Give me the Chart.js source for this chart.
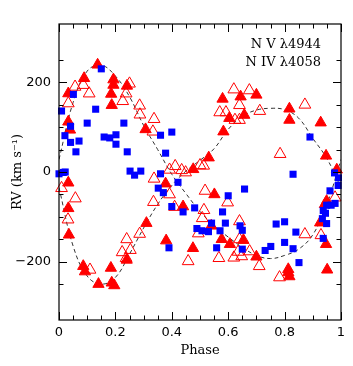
<!DOCTYPE html>
<html><head><meta charset="utf-8">
<script src="https://cdn.jsdelivr.net/npm/chart.js@4"></script>
<style>html,body{margin:0;padding:0;background:#fff}</style>
</head><body>
<canvas id="c" width="353" height="366"></canvas>
<script>
// ---- data ----
const seriesNames = ["N V \u03bb4944", "N IV \u03bb4058"];

const nvPhase = [0.000,0.015,0.022,0.009,0.051,0.130,0.150,0.100,0.041,0.021,
                 0.041,0.071,0.060,0.160,0.180,0.202,0.202,0.230,0.242,0.252,
                 0.268,0.290,0.360,0.400,0.378,0.360,0.352,0.370,0.422,0.400,
                 0.440,0.481,0.489,0.507,0.530,0.541,0.571,0.580,0.590,0.600,
                 0.658,0.642,0.650,0.390,0.559,0.650,0.731,0.751,0.770,0.800,
                 0.840,0.800,0.830,0.851,0.830,0.890,0.977,0.991,0.990,0.961,
                 0.949,0.965,0.979,0.937,0.945,0.934,0.949,0.937];
const nvRV    = [-4,-1,0,136,173,140,230,109,102,81,
                 66,69,45,78,76,83,62,109,45,2,
                 -7,2,82,89,42,-4,-36,-46,-23,-77,
                 -89,-80,-126,-131,-133,-114,-131,-89,-114,-53,
                 -38,-120,-130,-169,-169,-172,-175,-166,-116,-111,
                 -134,-157,-171,-202,-5,78,-2,-13,-30,-42,
                 -74,-74,-70,-86,-92,-104,-115,-148];

const nivFilledPhase = [0.033,0.089,0.137,0.193,0.193,0.185,0.187,0.241,0.033,0.039,
                        0.307,0.378,0.440,0.476,0.531,0.583,0.580,0.644,0.700,0.604,
                        0.657,0.817,0.817,0.928,0.947,0.985,0.033,0.033,0.035,0.086,
                        0.092,0.140,0.184,0.187,0.196,0.240,0.310,0.380,0.475,0.551,
                        0.540,0.577,0.606,0.654,0.700,0.813,0.813,0.817,0.951,0.947,
                        0.926,0.943,0.949];
const nivFilledRV    = [175,209,239,206,194,174,149,192,112,94,
                        95,-26,-77,6,32,90,163,168,172,120,
                        127,141,116,110,36,5,-24,-81,-140,-210,
                        -222,-250,-214,-247,-253,-196,-114,-153,-170,-50,
                        -120,-150,-161,-152,-189,-217,-224,-233,-218,-161,
                        -113,-72,-65];

const nivOpenPhase = [0.057,0.033,0.086,0.107,0.226,0.250,0.238,0.286,0.287,0.337,
                      0.333,0.620,0.675,0.640,0.570,0.592,0.624,0.640,0.712,0.872,
                      0.513,0.784,0.412,0.435,0.449,0.392,0.500,0.337,0.392,0.335,
                      0.410,0.518,0.598,0.514,0.508,0.640,0.009,0.058,0.032,0.110,
                      0.240,0.224,0.238,0.253,0.286,0.458,0.494,0.567,0.620,0.635,
                      0.648,0.676,0.710,0.782,0.872,0.929,0.979,0.640];
const nivOpenRV    = [190,153,194,175,158,197,175,148,128,118,
                      90,184,182,149,133,133,116,116,136,150,
                      14,40,13,4,-1,5,15,-15,-50,-67,
                      -78,-42,-68,-85,-103,-110,-36,-59,-106,-218,
                      -150,-179,-192,-174,-138,-199,-137,-192,-191,-178,
                      -188,-177,-210,-235,-139,-141,-57,-150];

// dashed model curves at phase steps of 0.05
const curvePhase = [0,0.05,0.1,0.15,0.2,0.25,0.3,0.35,0.4,0.45,0.5,
                    0.55,0.6,0.65,0.7,0.75,0.8,0.85,0.9,0.95,1.0];
const curveA = [28,155,225,238,214,168,104,50,-5,-48,-88,
                -120,-145,-168,-186,-193,-186,-172,-140,-72,28];
const curveB = [-35,-165,-232,-250,-235,-183,-125,-72,-30,2,26,
                52,95,124,138,142,139,120,75,30,-35];

const xLabelEvery = 0.2, xMinorStep = 0.05;
const yLabelEvery = 200, yMinorStep = 50;

const pts = (xs, ys) => xs.map((v, i) => ({x: v, y: ys[i]}));

const SERIF = '"DejaVu Serif", serif';
const SANS = '"DejaVu Sans", sans-serif';

const framePlugin = {
  id: 'frame',
  afterDatasetsDraw(chart) {
    const {ctx, chartArea: a, scales: {x, y}} = chart;
    ctx.save();
    ctx.strokeStyle = '#000';
    ctx.lineWidth = 1.2;
    ctx.strokeRect(a.left, a.top, a.right - a.left, a.bottom - a.top);
    ctx.lineWidth = 1;
    ctx.beginPath();
    x.ticks.forEach(t => {
      const k = t.value / xMinorStep;
      if (Math.abs(k - Math.round(k)) > 1e-6) return;
      const m = t.value / xLabelEvery;
      const major = Math.abs(m - Math.round(m)) < 1e-6;
      const len = major ? 8 : 4.5;
      const px = Math.round(x.getPixelForValue(t.value)) + 0.5;
      ctx.moveTo(px, a.bottom); ctx.lineTo(px, a.bottom - len);
      ctx.moveTo(px, a.top); ctx.lineTo(px, a.top + len);
    });
    y.ticks.forEach(t => {
      if (t.value % yMinorStep !== 0) return;
      const major = t.value % yLabelEvery === 0;
      const len = major ? 8 : 4.5;
      const py = Math.round(y.getPixelForValue(t.value)) + 0.5;
      ctx.moveTo(a.left, py); ctx.lineTo(a.left + len, py);
      ctx.moveTo(a.right, py); ctx.lineTo(a.right - len, py);
    });
    ctx.stroke();
    ctx.fillStyle = '#000';
    ctx.font = '13px ' + SERIF;
    ctx.textAlign = 'right';
    ctx.textBaseline = 'alphabetic';
    ctx.fillText(seriesNames[0], a.right - 20, a.top + 23.5);
    ctx.fillText(seriesNames[1], a.right - 20, a.top + 41.5);
    ctx.restore();
  }
};

new Chart(document.getElementById('c'), {
  type: 'scatter',
  data: {
    datasets: [
      {label: seriesNames[0], data: pts(nvPhase, nvRV), pointStyle: 'rect',
       pointRadius: 5, backgroundColor: '#0000ff', borderColor: '#0000ff',
       borderWidth: 0, order: 1, clip: false},
      {label: seriesNames[1] + ' (filled)', data: pts(nivFilledPhase, nivFilledRV), pointStyle: 'triangle',
       pointRadius: 6.5, backgroundColor: '#ff0000', borderColor: '#ff0000',
       borderWidth: 1, order: 2, clip: false},
      {label: seriesNames[1], data: pts(nivOpenPhase, nivOpenRV), pointStyle: 'triangle',
       pointRadius: 6.8, backgroundColor: 'rgba(0,0,0,0)', borderColor: '#ff0000',
       borderWidth: 1, order: 3, clip: false},
      {type: 'line', label: 'model A', data: pts(curvePhase, curveA), showLine: true,
       borderColor: '#333', borderWidth: 1, borderDash: [4, 3], pointRadius: 0,
       tension: 0.4, fill: false, order: 4},
      {type: 'line', label: 'model B', data: pts(curvePhase, curveB), showLine: true,
       borderColor: '#333', borderWidth: 1, borderDash: [4, 3], pointRadius: 0,
       tension: 0.4, fill: false, order: 5}
    ]
  },
  options: {
    responsive: false,
    animation: false,
    devicePixelRatio: 1,
    layout: {padding: {top: 24, right: 12, left: 0, bottom: 0}},
    plugins: {legend: {display: false}, tooltip: {enabled: false}},
    scales: {
      x: {
        type: 'linear', min: 0, max: 1,
        afterFit: s => { s.height = 46; },
        grid: {display: false, drawTicks: false},
        border: {display: false},
        ticks: {
          stepSize: xMinorStep, autoSkip: false, maxRotation: 0, padding: 5,
          color: '#000', font: {family: SANS, size: 13},
          callback: v => {
            const m = v / xLabelEvery;
            if (Math.abs(m - Math.round(m)) > 1e-6) return '';
            if (Math.abs(v) < 1e-9) return '0';
            if (Math.abs(v - 1) < 1e-9) return '1';
            return v.toFixed(1);
          }
        },
        title: {display: true, text: 'Phase', color: '#000',
                font: {family: SERIF, size: 13}, padding: {top: 0, bottom: 8}}
      },
      y: {
        type: 'linear', min: -330, max: 330,
        afterFit: s => { s.width = 59; },
        grid: {display: false, drawTicks: false},
        border: {display: false},
        ticks: {
          stepSize: yMinorStep, autoSkip: false, padding: 8,
          color: '#000', font: {family: SANS, size: 13},
          callback: v => (v % yLabelEvery === 0) ? (v < 0 ? '\u2212' + Math.abs(v) : String(v)) : ''
        },
        title: {display: true, text: 'RV (km s\u207b\u00b9)', color: '#000',
                font: {family: SERIF, size: 13}, padding: {top: 10, bottom: 0}}
      }
    }
  },
  plugins: [framePlugin]
});
</script>
</body></html>
